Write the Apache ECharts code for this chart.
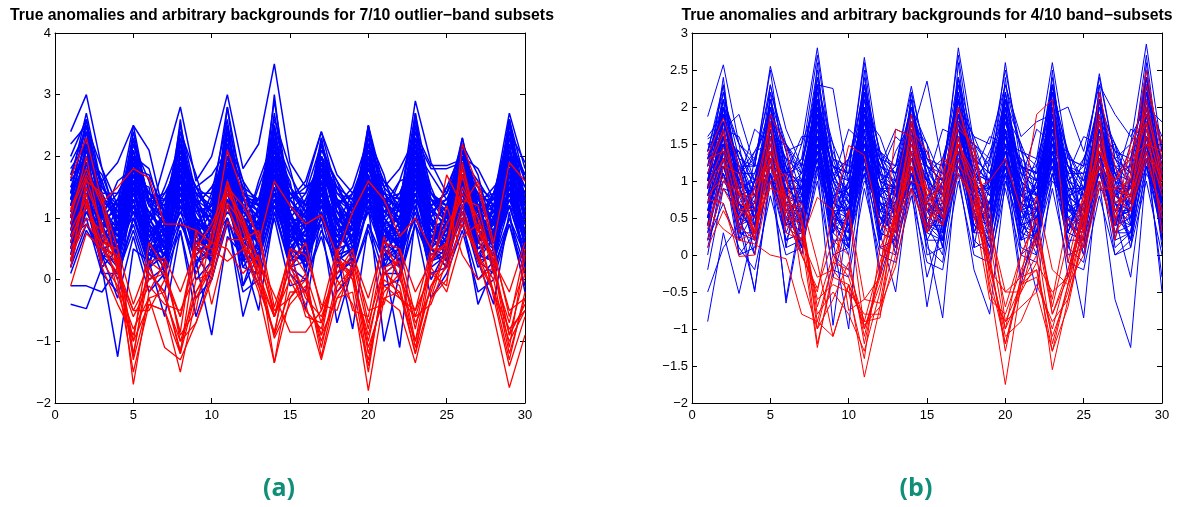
<!DOCTYPE html>
<html><head><meta charset="utf-8">
<script src="https://cdn.jsdelivr.net/npm/echarts@6/dist/echarts.min.js"></script>
<style>html,body{margin:0;padding:0;background:#fff}#c{width:1187px;height:507px}</style>
</head><body><div id="c"></div>
<script>
const bands = [1,2,3,4,5,6,7,8,9,10,11,12,13,14,15,16,17,18,19,20,21,22,23,24,25,26,27,28,29,30];
const titleA = 'True anomalies and arbitrary backgrounds for 7/10 outlier\u2212band subsets';
const titleB = 'True anomalies and arbitrary backgrounds for 4/10 band\u2212subsets';
const panelLabels = ['(a)', '(b)'];

// Panel (a): background (blue) spectra
const blueA = [
[1.0,1.9,0.8,0.6,1.7,0.9,0.5,1.8,1.0,0.6,2.0,0.9,0.7,2.1,1.0,0.6,1.7,0.8,1.0,1.9,0.7,0.8,2.0,0.7,0.9,1.8,0.9,0.6,1.9,1.0],
[1.3,2.3,1.1,0.5,2.0,0.7,0.9,2.2,0.8,0.6,2.4,1.2,0.5,2.5,0.9,0.7,2.0,1.1,0.8,2.2,1.0,0.7,2.3,0.9,0.6,1.9,1.1,0.7,2.3,1.2],
[0.6,1.5,0.4,0.3,1.3,0.5,0.2,1.4,0.6,0.3,1.6,0.4,0.3,1.7,0.5,0.4,1.3,0.3,0.5,1.4,0.4,0.2,1.6,0.5,0.3,1.4,0.6,0.4,1.5,0.3],
[1.6,2.7,1.5,1.1,2.3,1.3,1.0,2.5,1.4,1.2,2.8,1.4,1.1,2.9,1.3,1.0,2.2,1.5,1.1,2.4,1.3,1.2,2.7,1.4,1.0,2.2,1.3,1.1,2.6,1.6],
[0.8,1.6,1.3,1.0,1.4,0.6,0.4,1.7,1.2,0.5,1.5,1.0,0.8,1.9,1.1,0.6,1.6,0.7,1.2,1.8,1.3,0.5,1.7,1.1,0.9,1.5,0.7,1.0,1.7,0.8],
[0.3,1.1,0.6,0.0,1.0,0.2,0.4,1.2,0.0,0.3,1.3,0.5,-0.1,1.1,0.3,0.4,1.0,0.1,0.3,1.2,0.5,0.0,1.2,0.2,0.4,1.1,0.3,0.1,1.0,0.4],
[2.4,3.0,1.8,1.2,2.5,2.1,1.0,2.0,1.5,1.1,2.2,1.3,1.0,2.4,1.2,0.9,1.8,1.1,1.0,2.0,1.1,1.2,2.9,1.9,1.4,2.0,1.1,1.3,2.7,1.8],
[2.0,2.6,1.4,0.9,1.8,1.0,1.9,2.8,1.6,2.0,3.0,1.8,2.2,3.5,1.9,1.5,2.4,1.4,1.1,2.5,1.5,1.8,2.3,1.8,1.8,1.9,1.3,1.0,2.1,1.5],
[-0.1,-0.1,-0.2,0.2,0.9,0.1,-0.2,1.0,0.3,-0.9,0.7,0.4,-0.5,1.1,0.2,0.3,0.9,-0.7,0.2,1.2,-1.0,0.1,0.9,0.3,0.4,1.0,-0.4,0.2,0.9,0.1],
[-0.4,-0.47,0.2,-1.25,0.5,0.3,-0.6,0.8,-0.6,0.2,1.0,-0.6,0.3,1.3,0.5,-0.5,1.1,0.4,-0.8,0.9,0.3,-1.1,1.0,0.5,0.2,1.2,0.3,-0.4,1.1,-0.2],
[0.9,2.0,1.6,1.9,2.5,1.2,1.0,1.9,1.5,1.7,2.1,1.4,1.3,2.0,1.3,1.6,2.4,1.7,1.4,2.1,1.0,1.6,2.4,1.85,1.85,1.95,1.6,1.2,1.9,1.4],
[1.1,1.7,0.9,0.8,1.5,1.1,0.7,1.6,0.9,0.8,1.8,1.0,0.9,1.9,0.8,0.9,1.5,1.0,0.8,1.7,0.9,1.0,1.8,0.9,0.7,1.6,1.0,0.8,1.7,1.1],
[0.7,1.3,0.5,0.4,1.1,0.6,0.3,1.2,0.7,0.4,1.4,0.6,0.4,1.5,0.7,0.5,1.1,0.5,0.6,1.3,0.6,0.4,1.4,0.6,0.5,1.2,0.7,0.5,1.3,0.6],
[1.4,2.1,1.2,0.7,1.8,1.4,1.1,2.0,1.2,0.9,2.2,1.5,0.8,2.2,1.4,1.2,1.9,1.3,0.9,2.0,1.4,1.1,2.1,1.2,1.3,1.9,1.4,0.9,2.0,1.3],
[0.4,1.2,1.0,0.6,1.9,0.8,0.5,1.5,0.4,0.7,1.7,0.2,0.6,1.6,0.9,0.2,1.4,0.9,0.4,1.6,0.8,0.6,1.5,0.3,0.7,1.6,0.5,0.8,1.4,0.9],
[1.9,2.4,1.0,1.3,2.1,0.9,1.5,2.2,0.8,1.4,2.6,0.7,1.6,2.3,0.6,1.3,2.0,1.2,1.5,2.3,0.9,1.3,2.5,1.0,1.5,2.1,0.8,1.4,2.4,1.0],
[0.9,1.6,0.3,0.9,1.2,0.3,0.8,1.5,0.2,0.9,1.6,0.3,0.9,1.4,0.4,0.8,1.3,0.2,0.9,1.5,0.2,0.7,1.7,0.3,0.9,1.4,0.3,1.0,1.6,0.2],
[1.2,2.0,1.4,0.2,1.6,1.5,0.2,1.9,1.3,0.4,2.0,1.4,0.2,2.1,1.6,0.3,1.8,1.3,0.2,1.9,1.5,0.4,2.0,1.2,0.3,1.7,1.4,0.1,2.0,1.3],
[0.5,1.0,0.1,0.1,0.8,0.0,0.2,0.9,0.4,0.0,1.0,0.2,0.1,1.2,0.2,0.0,0.8,0.3,0.1,0.9,0.1,0.3,1.1,0.1,0.2,0.9,0.0,0.3,1.0,0.2],
[1.7,2.5,1.8,0.9,2.2,1.6,0.7,2.4,1.7,0.8,2.5,1.6,0.7,2.6,1.8,0.8,2.1,1.6,0.9,2.3,1.7,0.8,2.4,1.5,0.9,2.2,1.7,0.7,2.4,1.9],
[0.2,1.4,0.8,0.5,1.5,0.3,0.7,1.6,0.9,0.3,1.5,0.8,0.4,1.7,0.5,0.8,1.6,0.4,0.7,1.5,0.8,0.3,1.6,0.9,0.5,1.5,0.4,0.8,1.6,0.6],
[1.0,2.2,0.6,1.2,1.8,0.5,1.1,2.0,0.7,1.3,2.1,0.5,1.2,2.3,0.6,1.1,1.9,0.5,1.3,2.0,0.6,1.2,2.2,0.5,1.1,1.9,0.6,1.2,2.1,0.7],
[1.5,1.8,0.8,1.3,1.4,1.0,1.4,1.7,1.1,1.2,1.9,1.3,1.2,1.8,1.0,1.3,1.6,0.9,1.4,1.7,1.0,1.2,1.8,1.1,1.3,1.6,1.0,1.2,1.8,1.1],
[0.6,1.7,1.1,0.3,1.4,0.9,0.1,1.5,1.0,0.2,1.7,0.9,0.2,1.8,1.1,0.1,1.4,1.0,0.3,1.6,0.9,0.2,1.7,1.0,0.3,1.5,1.1,0.2,1.6,0.9],
[1.2,2.4,1.3,1.0,2.4,1.2,0.9,2.3,1.2,1.0,2.5,1.1,0.9,2.7,1.2,1.0,2.3,1.1,1.0,2.4,1.2,0.9,2.6,1.1,1.0,2.3,1.2,1.0,2.5,1.2],
[0.8,1.3,0.7,0.8,1.2,0.8,0.7,1.4,0.6,0.8,1.3,0.7,0.8,1.4,0.8,0.7,1.2,0.8,0.7,1.3,0.8,0.7,1.4,0.7,0.8,1.2,0.8,0.7,1.3,0.8],
[2.2,2.5,1.5,1.2,2.0,1.4,1.3,2.1,1.5,1.3,2.3,1.6,1.2,2.5,1.5,1.2,2.0,1.4,1.3,2.2,1.5,1.2,2.3,1.4,1.2,2.0,1.5,1.3,2.3,1.7],
[0.1,0.8,0.4,-0.3,0.7,-0.2,0.1,0.8,-0.3,0.0,0.9,-0.2,0.0,1.0,-0.1,0.0,0.7,-0.2,0.1,0.8,-0.1,0.0,0.9,-0.3,0.1,0.8,-0.2,0.0,0.9,-0.1],
[1.3,2.0,1.6,0.9,1.7,1.3,1.2,1.9,1.5,1.0,2.0,1.3,1.1,2.0,1.4,1.2,1.7,1.5,1.0,1.8,1.4,1.1,2.0,1.4,1.2,1.8,1.5,1.1,1.9,1.4],
[0.9,1.5,0.5,0.6,2.0,0.7,0.4,1.9,0.6,0.5,1.8,0.6,0.5,2.0,0.7,0.6,1.8,0.5,0.6,1.9,0.6,0.5,1.9,0.7,0.6,1.7,0.5,0.6,1.9,0.7],
[1.1,1.5,1.0,1.6,1.8,1.7,1.1,1.6,1.2,1.5,1.7,1.3,1.0,1.6,1.3,1.5,1.7,1.2,1.0,1.8,1.2,1.6,1.7,1.0,1.5,1.6,1.2,1.5,1.8,1.2],
[0.5,1.9,1.2,0.7,2.1,1.0,0.6,2.0,1.1,0.7,2.2,1.0,0.6,2.2,1.0,0.7,2.0,0.9,0.7,2.1,1.0,0.6,2.2,1.0,0.7,2.0,0.9,0.6,2.2,1.0],
[1.8,2.2,0.5,0.4,1.6,0.4,0.3,1.7,0.5,0.4,1.8,0.5,0.3,1.9,0.4,0.3,1.6,0.4,0.5,1.7,0.5,0.3,1.8,0.5,0.4,1.6,0.4,0.3,1.8,0.5],
[0.7,1.8,0.9,1.2,1.6,0.4,0.9,1.8,1.4,0.6,1.9,1.0,1.3,2.0,0.5,0.9,1.9,1.3,0.5,1.8,1.1,1.4,2.0,0.6,0.9,1.8,1.2,0.6,2.0,1.2],
[1.4,2.6,1.1,0.4,2.3,0.9,0.6,2.6,0.8,0.5,2.8,1.0,0.6,3.0,0.9,0.5,2.3,0.9,0.7,2.5,0.8,0.6,2.7,0.9,0.5,2.2,0.9,0.6,2.6,1.0],
[0.3,1.2,0.2,0.5,1.4,0.6,0.0,1.3,0.3,0.5,1.5,-0.1,0.4,1.5,0.2,0.5,1.3,0.0,0.4,1.4,0.3,0.5,1.3,0.0,0.5,1.2,0.3,0.4,1.4,0.3],
[0.9,1.4,1.2,0.6,1.3,1.1,0.8,1.6,0.7,1.1,1.4,0.9,0.6,1.6,1.2,0.8,1.2,1.0,0.7,1.5,1.1,0.9,1.6,0.8,1.0,1.3,1.1,0.7,1.5,1.2],
[1.2,1.9,0.7,1.0,2.2,1.3,0.5,2.1,0.9,0.8,1.6,1.3,1.0,2.0,0.7,1.2,1.6,0.6,1.1,2.2,0.9,0.5,1.8,1.2,0.8,2.1,0.8,1.1,1.7,0.6],
[0.4,1.7,1.0,1.3,1.1,0.2,1.2,1.4,0.5,0.3,1.9,1.2,0.7,1.3,0.4,1.0,2.0,1.1,0.6,1.7,0.3,1.0,1.4,0.6,1.1,1.5,1.3,0.9,2.2,0.5],
[1.5,2.2,1.6,0.8,1.9,0.9,1.3,1.8,1.4,1.1,1.7,0.8,1.5,2.2,1.3,0.9,1.9,1.2,1.4,1.8,1.6,1.1,2.1,1.7,1.3,1.6,1.0,1.4,2.3,1.6],
[0.7,0.9,0.4,0.9,1.7,0.9,0.6,1.1,0.8,0.4,1.2,0.9,0.3,1.9,0.9,0.5,1.0,0.6,0.9,1.4,0.5,0.7,1.3,0.9,0.6,1.0,0.6,0.9,1.2,0.8],
[1.0,2.1,1.3,0.5,1.5,0.6,1.0,2.3,0.9,1.2,2.3,0.9,1.1,1.8,1.1,0.4,2.2,1.3,0.6,2.4,1.3,0.9,1.7,0.9,1.2,2.3,1.1,0.5,2.1,1.3],
[0.6,1.1,0.9,0.7,1.0,0.4,0.9,1.3,1.0,0.6,1.1,0.8,0.9,1.2,0.6,0.8,1.5,0.7,0.8,1.1,0.7,0.9,1.2,0.5,0.8,1.3,0.9,0.6,1.2,0.5],
[1.3,2.3,1.0,1.1,1.6,1.1,0.8,1.7,1.3,0.9,2.5,1.1,0.8,2.1,1.5,1.1,1.9,0.9,1.2,2.0,1.2,1.0,2.2,1.3,0.9,2.0,1.2,1.2,2.4,1.1],
[0.2,0.9,0.5,0.2,1.2,0.5,0.3,1.0,0.1,0.6,1.0,0.3,0.5,1.4,0.6,0.2,1.2,0.4,0.2,1.3,0.2,0.4,1.0,0.4,0.6,1.1,0.2,0.5,1.2,0.4],
[1.7,1.9,1.1,1.4,1.9,1.4,1.2,2.3,1.2,1.5,2.0,1.2,1.3,2.4,1.1,1.4,2.2,1.3,1.2,1.9,1.4,1.3,1.9,1.2,1.4,2.2,1.3,1.3,1.9,1.5],
[1.0,1.6,1.5,1.1,1.8,1.2,1.3,1.7,0.6,0.9,1.8,1.1,0.9,1.7,1.0,0.9,1.7,1.2,0.8,1.6,1.2,1.1,1.5,1.3,1.2,1.7,1.0,1.1,1.8,1.0],
[0.8,2.0,0.9,0.3,1.9,0.8,0.4,1.8,0.8,0.3,1.9,0.7,0.4,2.3,0.8,0.3,1.7,0.8,0.4,2.0,0.8,0.5,2.1,0.7,0.4,1.9,0.8,0.4,2.0,0.7],
[1.1,1.3,0.2,0.5,1.1,1.0,0.5,1.3,0.6,0.9,1.6,0.6,0.5,1.3,0.8,0.9,1.4,0.5,0.9,1.4,0.4,0.6,1.3,0.8,0.7,1.3,0.6,0.9,1.4,0.9],
[1.4,2.5,1.2,0.8,2.1,1.2,1.0,2.4,1.3,0.9,2.4,1.2,0.9,2.4,1.3,1.0,2.2,1.2,0.9,2.5,1.3,1.0,2.5,1.3,1.0,2.1,1.2,0.9,2.6,1.3],
[0.5,1.3,0.6,0.6,1.6,0.8,0.5,1.6,0.9,0.5,1.6,0.8,0.6,1.6,0.7,0.6,1.4,0.7,0.5,1.5,0.7,0.6,1.6,0.8,0.5,1.4,0.7,0.6,1.5,0.7],
[1.2,1.4,1.3,1.2,1.5,1.4,1.1,1.5,1.3,1.1,1.5,1.4,1.2,1.6,1.4,1.1,1.4,1.3,1.1,1.5,1.3,1.2,1.6,1.3,1.1,1.4,1.4,1.2,1.5,1.3],
[0.9,1.8,0.1,-0.2,1.5,0.2,0.6,1.7,0.3,0.4,1.8,-0.1,0.7,1.8,0.1,-0.2,1.5,0.3,0.5,1.7,0.1,0.1,1.6,0.5,0.2,1.6,0.3,0.7,1.7,0.2],
[1.6,2.0,1.7,1.0,2.0,1.8,0.9,2.2,1.1,1.2,2.2,1.5,1.3,2.3,1.7,1.2,2.0,1.6,1.2,2.2,1.6,1.3,2.2,1.4,1.1,2.0,1.8,1.3,2.2,1.7],
[0.3,1.6,0.9,0.9,1.3,0.2,0.4,1.4,1.0,0.8,1.3,0.3,1.0,1.4,0.3,0.6,1.4,0.6,0.9,1.3,0.6,0.8,1.4,0.4,0.6,1.3,0.6,0.9,1.4,0.6],
[1.0,2.2,1.1,0.7,1.7,0.7,0.8,2.0,1.0,0.6,2.2,0.8,0.7,2.2,0.9,0.6,1.9,1.0,0.7,2.0,0.9,0.8,2.1,1.0,0.6,1.9,0.9,0.7,2.1,0.9],
[0.7,1.5,0.9,0.9,1.2,0.7,1.1,1.5,0.8,0.9,1.7,0.8,0.8,1.7,0.9,1.1,1.3,0.7,1.1,1.6,0.8,1.0,1.5,0.9,0.9,1.4,0.8,1.1,1.5,0.9],
[1.3,1.7,0.6,0.9,1.8,0.6,1.1,1.8,0.5,1.0,1.6,0.6,1.1,1.7,0.7,1.1,1.8,0.5,1.0,1.6,0.5,1.2,1.8,0.6,1.1,1.7,0.6,1.0,1.8,0.5],
[1.1,2.1,1.4,1.4,1.9,1.3,1.4,1.9,1.4,1.4,2.0,1.3,1.3,1.9,1.4,1.4,1.9,1.5,1.3,1.9,1.3,1.4,2.0,1.2,1.4,1.9,1.3,1.4,2.0,1.4],
[0.6,1.2,0.4,0.1,1.0,0.4,0.5,1.1,0.5,0.5,1.2,0.4,0.3,1.2,0.5,0.3,1.0,0.4,0.5,1.1,0.4,0.5,1.2,0.3,0.5,1.1,0.4,0.3,1.2,0.4]
];

// Panel (a): true anomalies (red)
const redA = [
[1.65,2.3,1.25,1.5,1.8,1.65,0.9,0.9,0.8,0.6,2.1,1.4,0.6,1.6,1.2,0.9,1.05,0.4,1.1,1.6,1.3,0.7,1.0,0.5,1.7,1.2,1.6,0.6,1.9,1.6],
[1.15,1.8,1.2,0.2,-0.5,0.0,0.1,-0.6,0.4,0.6,1.6,0.9,0.1,-0.6,0.2,-0.2,-0.9,0.3,0.1,-1.0,0.2,0.3,-0.8,0.4,0.6,1.8,0.8,0.3,-0.9,0.1],
[0.9,1.65,0.8,0.3,-1.3,-0.3,-0.2,-1.2,0.5,0.4,1.5,0.8,0.0,-0.9,0.5,0.1,-0.7,0.2,0.3,-0.8,0.5,0.2,-1.0,0.3,0.9,1.3,1.2,0.2,-1.1,0.4],
[0.3,1.5,0.9,-0.2,-1.0,0.6,0.2,-0.9,-0.5,0.8,1.4,1.0,0.3,-0.5,-0.3,0.0,-1.1,0.0,-0.4,-1.3,-0.1,-0.3,-0.6,-0.4,0.3,1.1,0.3,-0.2,-0.8,-0.5],
[0.2,1.25,0.6,0.0,-1.5,-0.4,-0.5,-1.5,-0.3,0.2,1.2,0.5,-0.2,-1.35,0.1,-0.4,-1.3,-0.3,-0.2,-1.8,-0.3,-0.5,-1.35,-0.3,0.0,1.0,0.4,-0.6,-1.75,-0.9],
[-0.1,0.75,0.5,0.4,-1.7,-0.2,0.3,-1.0,-0.7,0.0,0.95,0.6,-0.1,-0.85,0.3,-0.6,-0.7,0.4,0.0,-1.5,0.1,-0.1,-1.2,0.2,-0.2,0.7,0.9,-0.3,-1.4,-0.6],
[0.6,1.4,0.3,-0.1,-0.8,-0.3,-1.1,-1.3,-0.7,0.1,1.6,0.6,0.2,-0.95,-0.4,-0.1,-1.0,-0.2,0.2,-1.2,-0.2,0.1,-1.1,-0.1,0.4,1.2,0.4,0.0,-1.2,-0.3],
[1.0,2.0,0.7,0.2,-1.25,0.3,0.1,-0.85,0.8,-0.4,0.65,0.65,0.8,-0.45,0.4,-0.3,-0.6,0.1,0.5,-0.7,0.2,-0.3,-0.5,0.1,-0.1,2.2,1.5,0.5,-0.6,0.2],
[0.8,1.3,0.2,-0.4,-0.9,0.2,-0.3,-1.0,-0.2,0.3,1.4,1.0,0.0,-0.6,0.0,-0.5,-0.8,0.3,0.0,-0.9,0.1,0.3,-0.7,-0.2,0.6,1.5,1.0,0.1,-0.7,0.5],
[0.4,0.9,0.6,0.5,-1.2,0.1,-0.2,-1.15,0.0,0.1,1.25,0.9,0.3,-1.35,-0.3,0.1,-1.25,-0.1,0.2,-1.4,0.0,-0.2,-1.2,-0.3,0.5,1.7,0.7,-0.2,-1.3,-0.2],
[0.3,1.6,1.4,0.1,-0.5,-0.5,0.0,-0.6,0.6,0.5,0.3,0.5,0.3,-0.25,-0.85,-0.85,-0.5,0.5,-0.5,-0.6,0.7,0.0,-0.5,0.5,0.5,1.9,0.8,0.4,-0.5,-0.3],
[0.7,1.2,0.5,0.1,-0.6,-0.1,-0.4,-0.5,0.1,0.6,0.5,0.1,0.4,-0.6,0.5,0.4,-0.4,-0.5,0.3,-0.5,-0.4,0.5,-0.6,0.2,1.2,0.4,0.0,0.2,-0.9,-0.4],
[1.1,1.7,1.3,0.5,-0.4,0.3,0.35,-0.2,0.5,0.9,1.5,1.2,0.7,-0.6,0.2,0.6,-0.5,0.1,0.4,-0.3,0.6,0.5,-0.2,0.3,0.6,1.4,1.0,0.3,-0.2,0.6],
[0.5,1.0,0.8,0.3,-1.0,-0.4,-0.5,-1.2,-0.2,0.2,1.2,0.6,-0.1,-0.9,-0.2,-0.2,-0.9,-0.3,0.1,-1.1,-0.3,-0.2,-1.0,-0.1,0.2,0.9,0.4,-0.2,-1.0,-0.5]
];

// Panel (b): background (blue) spectra
const blueB = [
[0.8,1.8,0.4,0.5,1.7,0.6,0.7,1.9,0.5,0.4,1.9,0.6,0.5,1.6,0.6,0.4,1.8,0.7,0.5,1.7,0.5,0.6,1.8,0.6,0.5,1.7,0.6,0.7,1.9,0.6],
[1.2,2.3,0.9,1.0,2.1,1.1,1.2,2.5,1.0,0.9,2.4,1.1,0.9,2.1,1.0,0.8,2.4,1.2,1.0,2.2,1.1,1.0,2.3,1.0,0.9,2.2,1.1,1.2,2.5,1.1],
[0.3,1.3,0.0,0.1,1.1,0.2,0.3,1.4,0.0,-0.2,1.3,0.1,0.0,1.1,0.1,-0.1,1.3,0.2,0.0,1.2,0.1,0.0,1.3,0.1,-0.1,1.2,0.0,0.2,1.4,0.2],
[1.0,2.0,0.6,0.8,1.9,0.8,1.0,2.2,0.7,0.6,2.1,0.8,0.7,1.9,0.7,0.6,2.1,0.9,0.7,2.0,0.8,0.7,2.1,0.8,0.6,1.9,0.8,0.9,2.2,0.8],
[0.5,1.5,0.3,0.2,1.4,0.4,0.5,1.7,0.3,0.1,1.6,0.3,0.2,1.4,0.3,0.2,1.6,0.4,0.3,1.5,0.3,0.2,1.6,0.3,0.2,1.4,0.4,0.5,1.6,0.4],
[1.87,2.57,1.5,1.2,2.3,1.4,1.5,2.8,1.3,1.1,2.67,1.3,1.2,2.28,1.2,1.0,2.8,1.5,1.3,2.5,1.4,1.3,2.6,1.3,1.2,2.45,1.3,1.5,2.85,1.4],
[-0.9,0.3,-0.52,0.4,1.3,-0.65,0.5,1.5,0.2,-1.0,1.4,0.3,-0.5,1.2,0.2,-0.85,1.4,0.4,0.2,1.3,-0.3,0.3,1.4,0.2,-0.85,1.3,0.3,0.4,1.5,-0.5],
[-0.5,0.1,0.4,-0.47,1.0,0.5,0.0,1.2,-0.95,0.6,1.1,-0.3,0.4,0.9,-0.7,0.5,1.1,-0.2,-0.8,1.0,0.4,-0.5,1.1,0.5,0.0,1.0,-0.6,-1.25,1.2,0.4],
[1.57,1.7,1.9,1.2,2.55,1.7,1.2,2.3,2.25,1.0,2.0,1.2,1.7,1.6,2.35,1.2,2.0,1.6,1.5,2.3,1.6,1.8,1.9,2.0,1.4,2.3,1.9,1.6,2.0,1.8],
[0.9,1.6,1.4,0.9,1.6,1.5,1.0,1.8,1.2,0.8,1.6,1.4,1.1,1.7,1.3,0.9,1.8,1.4,1.0,1.6,1.3,1.1,1.7,1.2,0.9,1.7,1.4,1.0,1.8,1.3],
[0.6,1.2,0.8,0.9,1.3,0.9,0.7,1.3,0.8,0.9,1.2,0.9,0.8,1.3,0.8,0.9,1.3,0.8,0.7,1.2,0.9,0.8,1.3,0.8,0.9,1.2,0.9,0.8,1.3,0.9],
[1.3,2.1,0.2,1.3,2.0,0.1,1.2,2.3,0.3,1.3,2.2,0.2,1.1,2.0,0.3,1.2,2.2,0.1,1.3,2.1,0.2,1.2,2.2,0.3,1.1,2.1,0.2,1.3,2.3,0.2],
[0.1,1.0,1.0,0.0,1.2,0.9,0.0,1.5,0.9,0.1,1.4,0.9,0.0,1.2,1.0,0.1,1.5,0.9,0.0,1.3,1.0,0.1,1.4,0.9,0.0,1.3,1.0,0.1,1.5,0.9],
[1.1,1.9,0.6,0.3,1.8,0.7,0.4,2.0,0.6,0.3,2.0,0.7,0.4,1.8,0.5,0.3,2.0,0.7,0.4,1.9,0.6,0.3,2.0,0.6,0.4,1.8,0.7,0.5,2.0,0.7],
[0.7,1.4,0.2,0.6,1.5,0.3,0.8,1.6,0.1,0.6,1.5,0.2,0.7,1.4,0.2,0.6,1.6,0.3,0.7,1.5,0.2,0.6,1.5,0.1,0.7,1.4,0.3,0.8,1.6,0.3],
[1.4,2.2,1.1,0.6,2.0,1.2,0.7,2.4,1.0,0.6,2.3,1.1,0.6,2.0,1.1,0.5,2.3,1.2,0.6,2.2,1.1,0.6,2.3,1.0,0.5,2.1,1.1,0.7,2.4,1.2],
[0.4,1.1,0.5,0.7,1.2,0.6,0.4,1.3,0.5,0.7,1.2,0.5,0.4,1.1,0.6,0.7,1.3,0.5,0.4,1.2,0.6,0.7,1.2,0.5,0.4,1.2,0.5,0.6,1.3,0.5],
[1.0,2.4,0.7,0.2,2.2,0.8,0.3,2.6,0.6,0.2,2.5,0.7,0.3,2.2,0.6,0.2,2.6,0.8,0.3,2.4,0.7,0.2,2.5,0.7,0.3,2.3,0.7,0.4,2.6,0.7],
[0.2,0.7,0.1,-0.2,0.8,0.0,0.1,1.0,-0.2,-0.3,0.9,0.0,-0.1,0.8,-0.1,-0.2,1.0,0.0,-0.1,0.9,0.0,-0.1,0.9,-0.1,-0.2,0.8,0.0,0.1,1.0,0.0],
[1.2,1.7,1.6,1.0,1.9,1.5,1.1,2.0,1.5,1.0,1.9,1.6,1.0,1.8,1.5,1.0,2.0,1.6,1.1,1.9,1.5,1.0,2.0,1.4,1.0,1.8,1.5,1.1,2.1,1.6],
[0.9,1.5,0.9,0.2,1.4,0.9,0.1,1.7,0.8,0.1,1.6,1.0,0.2,1.5,0.8,0.1,1.7,0.9,0.2,1.6,0.9,0.1,1.6,0.8,0.2,1.5,0.9,0.2,1.7,0.9],
[0.6,1.8,1.2,0.6,1.7,1.3,0.5,2.0,1.1,0.6,1.9,1.2,0.5,1.7,1.1,0.6,1.9,1.3,0.5,1.8,1.2,0.6,1.9,1.1,0.5,1.7,1.2,0.6,2.0,1.2],
[1.5,1.3,0.4,1.0,1.1,0.4,1.0,1.4,0.3,1.0,1.3,0.4,1.0,1.1,0.4,0.9,1.4,0.3,1.0,1.2,0.4,1.0,1.3,0.3,0.9,1.2,0.4,1.0,1.4,0.4],
[0.0,1.2,0.5,0.4,1.3,0.5,0.3,1.5,0.4,0.2,1.4,0.5,0.3,1.2,0.4,0.3,1.5,0.5,0.3,1.3,0.4,0.3,1.4,0.4,0.2,1.3,0.5,0.4,1.5,0.5],
[1.3,2.0,0.9,1.4,1.8,0.8,1.5,2.1,0.7,1.3,2.0,0.8,1.4,1.8,0.7,1.3,2.1,0.9,1.4,1.9,0.8,1.3,2.0,0.7,1.3,1.9,0.8,1.5,2.1,0.8],
[0.8,1.6,0.0,0.3,1.6,0.1,0.2,1.8,0.0,0.1,1.7,0.1,0.2,1.6,0.0,0.1,1.8,0.1,0.2,1.7,0.0,0.2,1.7,0.0,0.1,1.6,0.1,0.3,1.8,0.1],
[0.5,2.0,1.5,0.4,2.1,1.4,0.4,2.3,1.5,0.3,2.2,1.4,0.4,2.0,1.5,0.3,2.3,1.4,0.4,2.1,1.5,0.3,2.2,1.4,0.4,2.0,1.5,0.4,2.3,1.5],
[1.1,1.4,1.0,1.7,1.5,1.1,1.6,1.6,1.0,1.7,1.5,1.1,1.6,1.4,1.0,1.7,1.6,1.1,1.6,1.5,1.0,1.7,1.5,1.1,1.6,1.5,1.0,1.7,1.6,1.1],
[-0.2,0.9,0.6,-0.5,1.1,-0.6,0.6,1.3,-0.3,0.5,1.2,-0.2,0.5,1.0,-0.3,0.4,1.2,0.6,-0.2,1.1,-0.4,0.5,1.2,-0.3,0.5,1.1,0.5,-0.3,1.3,-0.3],
[0.9,2.2,1.3,1.2,2.5,1.0,1.3,2.7,1.2,1.1,2.6,1.0,1.2,2.2,1.3,1.1,2.7,1.2,1.0,2.6,1.2,1.1,2.4,1.0,1.2,2.4,1.3,1.1,2.7,1.0],
[0.4,1.7,0.8,0.9,1.9,0.6,0.8,2.1,0.5,0.8,2.0,0.6,0.9,1.8,0.6,0.8,2.1,0.7,0.9,2.0,0.5,0.8,2.1,0.6,0.8,1.9,0.7,0.9,2.2,0.6],
[1.6,1.9,1.2,0.5,1.6,0.5,0.9,1.8,0.7,0.9,1.7,0.3,0.8,1.6,0.6,0.7,1.8,0.9,0.5,1.7,0.7,0.9,1.8,0.5,0.7,1.6,0.8,0.6,1.8,0.9],
[0.7,1.1,0.3,0.3,1.0,0.2,0.3,1.2,0.2,0.2,1.1,0.3,0.2,1.0,0.2,0.2,1.2,0.3,0.3,1.1,0.2,0.3,1.1,0.2,0.2,1.0,0.3,0.3,1.2,0.3],
[1.0,2.1,1.0,0.7,2.3,1.2,0.9,2.1,1.3,0.7,2.2,1.0,0.8,2.0,1.2,0.7,2.2,1.1,0.8,2.1,1.0,0.8,2.2,1.2,0.7,2.1,1.0,0.8,2.3,1.0],
[1.3,1.5,0.7,0.4,1.3,0.7,0.6,1.5,0.7,0.6,1.4,0.7,0.6,1.3,0.7,0.5,1.5,0.7,0.6,1.4,0.7,0.6,1.4,0.7,0.5,1.3,0.7,0.6,1.5,0.7],
[0.2,1.4,1.1,1.4,1.5,1.2,0.3,1.6,1.0,1.3,1.5,0.6,0.2,1.3,1.1,0.2,1.6,1.5,0.3,1.4,1.3,0.2,1.5,1.4,0.3,1.4,0.2,0.3,1.6,1.3],
[0.9,1.5,1.0,0.8,1.6,1.1,0.9,1.7,0.9,0.8,1.6,1.0,0.9,1.5,1.0,0.8,1.7,1.0,0.9,1.6,1.0,0.8,1.6,0.9,0.8,1.5,1.0,0.9,1.7,1.0],
[1.1,1.7,0.7,0.9,1.4,0.9,1.1,1.9,0.6,0.5,1.8,1.0,0.9,1.6,0.7,0.6,1.9,0.8,1.0,1.6,0.7,0.9,1.9,0.8,0.6,1.6,0.9,1.0,1.8,0.9],
[0.6,1.3,0.9,0.4,1.2,0.8,0.7,1.6,0.6,0.3,1.5,0.7,0.6,1.3,0.7,0.4,1.5,0.8,0.6,1.4,0.7,0.5,1.5,0.7,0.4,1.3,0.8,0.7,1.5,0.7],
[1.4,1.9,1.1,1.1,1.8,1.3,1.2,2.1,1.1,1.0,2.0,1.2,1.1,1.8,1.2,1.0,2.0,1.3,1.1,1.9,1.2,1.1,1.9,1.2,1.0,1.8,1.2,1.2,2.1,1.2],
[0.3,1.1,0.6,0.6,1.1,0.4,0.5,1.3,0.4,0.3,1.2,0.5,0.5,1.1,0.4,0.4,1.3,0.5,0.5,1.2,0.4,0.5,1.2,0.4,0.3,1.1,0.5,0.5,1.3,0.5],
[1.0,1.8,1.3,0.6,2.0,0.9,0.9,2.2,1.1,0.7,2.1,1.3,0.8,1.9,1.1,0.9,2.2,1.0,0.7,2.1,1.1,0.9,2.0,1.2,0.8,2.0,0.9,0.9,2.3,1.1],
[0.8,1.2,0.5,0.7,1.5,0.8,0.4,1.4,0.7,0.5,1.4,0.6,0.8,1.3,0.6,0.5,1.4,0.6,0.7,1.4,0.7,0.6,1.3,0.6,0.7,1.4,0.5,0.6,1.4,0.7],
[1.2,2.0,1.2,1.0,1.7,1.0,1.0,1.8,1.2,1.1,1.9,1.1,1.0,1.9,1.2,1.0,1.9,1.1,1.0,1.8,1.2,1.0,1.8,1.1,1.1,1.8,1.1,1.0,2.0,1.2],
[0.5,1.6,0.7,0.2,1.7,0.5,0.2,1.9,0.4,0.1,1.8,0.5,0.3,1.6,0.4,0.2,1.9,0.5,0.2,1.7,0.4,0.2,1.8,0.5,0.2,1.7,0.5,0.3,1.9,0.4],
[1.0,1.3,1.2,1.2,1.3,1.1,1.0,1.4,1.2,1.1,1.4,1.2,1.0,1.3,1.2,1.1,1.4,1.1,1.0,1.4,1.2,1.1,1.4,1.2,1.1,1.3,1.2,1.0,1.4,1.2],
[0.7,1.9,0.9,0.5,1.8,1.0,0.6,2.0,0.9,0.5,2.0,0.8,0.6,1.7,0.9,0.5,2.0,1.0,0.6,1.9,0.9,0.5,1.9,0.9,0.6,1.8,1.0,0.6,2.0,0.9],
[1.5,1.6,0.8,1.1,1.7,0.7,0.9,1.7,0.8,0.9,1.6,0.8,1.0,1.6,0.8,0.9,1.8,0.7,1.0,1.7,0.8,0.9,1.7,0.8,0.9,1.6,0.8,1.0,1.8,0.8],
[0.4,1.4,1.2,0.8,1.4,1.0,0.8,1.6,1.0,0.7,1.5,1.1,0.8,1.3,1.0,0.8,1.6,1.1,0.8,1.5,1.0,0.7,1.5,1.0,0.8,1.4,1.1,0.8,1.6,1.0],
[1.2,1.6,0.4,0.6,1.4,0.5,0.6,1.6,0.4,0.5,1.5,0.5,0.6,1.4,0.4,0.5,1.6,0.5,0.6,1.5,0.4,0.5,1.6,0.4,0.5,1.4,0.5,0.6,1.6,0.5],
[0.9,2.1,1.5,1.3,2.2,1.5,1.2,2.4,1.3,1.2,2.3,1.4,1.2,2.0,1.3,1.2,2.4,1.5,1.2,2.3,1.4,1.2,2.3,1.3,1.2,2.1,1.4,1.3,2.4,1.4],
[0.6,1.0,0.7,0.5,1.1,0.6,0.6,1.2,0.5,0.4,1.1,0.6,0.5,1.0,0.6,0.5,1.2,0.6,0.5,1.1,0.6,0.5,1.1,0.5,0.5,1.1,0.6,0.6,1.2,0.6],
[1.3,1.8,1.3,0.8,1.6,1.2,0.9,1.9,1.2,0.8,1.8,1.3,0.9,1.7,1.2,0.8,1.9,1.3,0.9,1.8,1.2,0.8,1.8,1.2,0.8,1.7,1.3,0.9,1.9,1.3],
[0.8,1.7,0.3,1.0,1.9,0.4,0.9,2.0,0.4,1.0,1.9,0.3,0.9,1.7,0.4,1.0,2.0,0.3,0.9,1.9,0.4,1.0,1.9,0.3,0.9,1.8,0.4,1.0,2.0,0.4],
[1.1,1.2,0.9,0.6,1.2,0.9,0.7,1.4,0.8,0.6,1.3,0.9,0.7,1.2,0.8,0.6,1.4,0.9,0.7,1.3,0.8,0.6,1.3,0.8,0.6,1.2,0.9,0.7,1.4,0.9],
[0.5,1.5,1.4,1.0,1.6,1.3,1.1,1.8,1.2,1.0,1.7,1.3,1.1,1.5,1.2,1.0,1.8,1.3,1.1,1.7,1.2,1.0,1.7,1.2,1.0,1.6,1.3,1.1,1.8,1.3],
[1.4,2.3,0.6,0.7,2.1,0.7,0.8,2.3,0.6,0.6,2.3,0.7,0.7,2.1,0.6,0.6,2.4,0.7,0.7,2.2,0.6,0.7,2.3,0.6,0.6,2.2,0.7,0.8,2.4,0.7],
[0.2,0.9,0.8,0.3,1.0,0.7,0.1,1.1,0.6,0.2,1.0,0.7,0.1,0.9,0.6,0.2,1.1,0.7,0.1,1.0,0.6,0.2,1.0,0.7,0.1,0.9,0.7,0.2,1.1,0.7],
[1.0,1.6,1.1,1.3,1.9,1.1,1.3,2.0,1.1,1.3,1.9,1.0,1.2,1.7,1.1,1.3,2.0,1.0,1.3,1.9,1.1,1.2,1.9,1.0,1.3,1.8,1.1,1.3,2.0,1.1],
[0.7,1.4,0.5,0.8,1.3,0.2,0.7,1.5,0.3,0.6,1.4,0.4,0.7,1.2,0.3,0.6,1.5,0.4,0.7,1.4,0.3,0.6,1.4,0.4,0.7,1.3,0.4,0.7,1.5,0.3],
[1.3,1.4,1.4,0.9,1.5,1.5,0.8,1.6,1.4,0.8,1.5,1.4,0.9,1.4,1.4,0.8,1.6,1.5,0.9,1.5,1.4,0.8,1.5,1.4,0.9,1.4,1.5,0.9,1.6,1.4],
[0.9,2.0,0.5,0.0,1.8,0.6,0.1,2.1,0.5,0.0,2.0,0.5,0.1,1.8,0.4,0.0,2.1,0.6,0.1,2.0,0.5,0.0,2.0,0.5,0.1,1.9,0.6,0.2,2.1,0.5],
[1.1,1.1,0.6,1.0,1.0,0.9,0.9,1.3,0.6,1.0,1.2,0.9,0.9,1.1,0.6,1.0,1.3,0.9,0.9,1.2,0.6,1.0,1.2,0.9,0.9,1.1,0.6,1.0,1.3,0.9],
[0.4,1.8,1.0,0.5,1.7,1.1,0.4,1.9,1.0,0.4,1.8,1.0,0.5,1.6,1.0,0.4,1.9,1.1,0.4,1.8,1.0,0.4,1.8,1.0,0.4,1.7,1.1,0.5,1.9,1.0]
];

// Panel (b): true anomalies (red)
const redB = [
[1.35,1.85,1.2,0.2,1.8,0.6,0.2,-1.25,-0.2,0.6,-1.0,-0.3,0.9,1.9,0.8,1.1,1.7,1.5,0.2,-1.0,-0.5,0.3,-0.8,-0.3,0.7,1.9,0.5,1.2,2.5,1.3],
[1.1,1.65,0.7,0.6,1.9,1.45,0.5,-0.8,-0.5,-0.8,-1.3,-0.5,0.6,1.6,0.9,0.7,2.0,1.2,-0.3,-1.2,-0.3,-0.2,-1.1,-0.5,0.4,1.6,0.9,1.0,2.1,1.1],
[0.95,1.45,0.9,0.2,1.4,1.0,0.4,-1.2,-0.3,-0.4,-1.65,-0.7,0.2,1.4,0.7,0.4,1.6,0.8,-0.4,-1.75,-0.4,0.0,-1.55,-0.6,0.2,1.5,0.7,0.8,2.0,1.0],
[0.7,1.3,0.3,0.9,1.75,0.7,0.0,-0.5,0.6,1.48,1.35,0.4,0.3,1.8,0.6,1.0,1.4,0.9,1.0,1.3,0.6,1.9,2.1,-0.1,0.8,1.2,1.0,1.3,1.5,1.4],
[0.4,1.0,0.85,0.3,1.6,0.5,0.45,-0.9,-0.1,0.62,-0.6,-0.65,0.5,1.2,0.5,0.6,1.5,1.0,-0.2,-1.0,0.0,0.5,-0.8,-0.2,0.6,1.8,0.4,1.5,1.9,1.2],
[0.75,0.7,-0.02,0.0,1.0,1.1,-0.3,-1.0,-0.1,-0.2,-0.9,-0.85,0.7,1.0,0.9,0.5,1.2,1.0,-0.5,-0.9,-0.7,-0.5,-1.3,-0.7,0.3,1.3,0.6,0.9,1.6,0.8],
[0.1,0.6,0.2,0.3,1.3,0.5,0.0,-0.45,0.2,0.0,-1.2,-0.2,0.5,0.9,0.4,0.8,1.3,0.6,-0.6,-0.8,-0.2,0.3,-0.6,0.5,0.1,1.0,0.3,0.6,1.4,0.5],
[0.35,1.2,1.1,0.3,1.0,0.4,0.2,0.78,0.6,-0.75,-0.6,-0.3,1.7,1.6,0.7,1.0,2.0,1.3,0.6,-0.9,-0.4,-0.3,-1.0,-0.2,0.5,1.4,1.0,1.4,1.8,0.9],
[1.3,1.4,0.6,0.7,1.5,0.8,0.5,-0.7,0.0,-0.3,-1.0,-0.4,0.4,1.5,0.8,0.5,1.5,1.1,-0.1,-1.1,-0.9,-0.4,-0.9,-0.6,0.3,2.2,1.2,0.7,2.3,1.5],
[0.8,1.05,0.6,0.5,0.9,0.8,0.3,-0.6,-0.4,-0.5,-0.8,-0.8,0.0,1.2,0.6,0.4,1.1,0.7,-0.2,-0.5,-0.5,-0.1,-0.5,-0.3,0.5,1.0,0.8,0.6,1.3,0.6],
[0.9,1.3,0.4,0.2,1.2,0.6,0.7,-0.1,-1.1,-0.4,-0.9,-0.1,0.6,1.7,1.4,0.8,1.8,1.4,0.4,-0.5,-0.3,0.8,-0.2,-0.4,0.6,1.5,0.8,0.6,1.7,1.0],
[0.2,0.9,0.5,0.9,1.4,0.3,0.2,-0.3,-0.2,-0.5,-1.4,0.1,0.5,1.3,0.3,0.7,1.6,0.5,0.0,-1.3,-0.3,0.2,-1.2,-0.4,0.4,1.2,0.2,1.1,1.8,0.3],
[0.6,0.35,0.2,0.15,0.0,-0.05,-0.8,-0.9,-1.1,-0.4,-0.95,-0.7,-0.15,0.9,0.3,1.3,1.1,0.8,-0.1,-1.2,-0.4,-0.2,-1.3,-0.4,0.0,0.9,0.9,0.8,1.4,0.9],
[1.2,1.7,0.8,0.8,1.3,0.7,0.5,-1.0,-0.6,-0.1,-1.1,-0.2,0.4,1.4,0.7,0.9,1.5,1.0,0.3,-0.7,0.0,0.5,-0.7,0.2,0.8,1.4,0.9,0.8,1.5,1.0]
];

const FONT = 'Liberation Sans, Arial, sans-serif';
const fmt = v => String(v).replace('-', '\u2212');

function baseAxis(gi, min, max, interval) {
  return {
    gridIndex: gi, type: 'value', min: min, max: max, interval: interval,
    axisLine: { show: true, onZero: false, lineStyle: { color: '#000', width: 1 } },
    axisTick: { show: true, inside: true, length: 5, lineStyle: { color: '#000', width: 1 } },
    splitLine: { show: false }
  };
}

const grids = [
  { left: 55, top: 33, width: 470, height: 370 },
  { left: 692, top: 33, width: 470, height: 370 }
];
const yRanges = [[-2, 4, 1], [-2, 3, 0.5]];

const xAxes = [], yAxes = [];
[0, 1].forEach(gi => {
  xAxes.push(Object.assign(baseAxis(gi, 0, 30, 5), { position: 'bottom',
    axisLabel: { color: '#000', fontFamily: FONT, fontSize: 13, margin: 6, formatter: fmt } }));
  xAxes.push(Object.assign(baseAxis(gi, 0, 30, 5), { position: 'top', axisLabel: { show: false } }));
  const r = yRanges[gi];
  yAxes.push(Object.assign(baseAxis(gi, r[0], r[1], r[2]), { position: 'left',
    axisLabel: { color: '#000', fontFamily: FONT, fontSize: 13, margin: 4, formatter: fmt } }));
  yAxes.push(Object.assign(baseAxis(gi, r[0], r[1], r[2]), { position: 'right', axisLabel: { show: false } }));
});

const series = [];
function addLines(lines, gi, color, width) {
  lines.forEach(vals => {
    series.push({
      type: 'line', xAxisIndex: gi * 2, yAxisIndex: gi * 2, silent: true,
      symbol: 'none', animation: false,
      lineStyle: { color: color, width: width },
      data: vals.map((v, i) => [bands[i], v])
    });
  });
}
addLines(blueA, 0, '#0000ff', 1.5);
addLines(redA, 0, '#ff0000', 1.3);
addLines(blueB, 1, '#0000ff', 1);
addLines(redB, 1, '#ff0000', 1);

const chart = echarts.init(document.getElementById('c'), null, { renderer: 'canvas' });
chart.setOption({
  backgroundColor: '#fff',
  animation: false,
  grid: grids,
  xAxis: xAxes,
  yAxis: yAxes,
  series: series,
  graphic: [
    { type: 'text', x: 282, y: 8, style: { text: titleA, align: 'center', verticalAlign: 'top',
      font: 'bold 15.8px ' + FONT, fill: '#000' } },
    { type: 'text', x: 927, y: 8, style: { text: titleB, align: 'center', verticalAlign: 'top',
      font: 'bold 15.8px ' + FONT, fill: '#000' } },
    { type: 'text', x: 279, y: 489, style: { text: panelLabels[0], align: 'center', verticalAlign: 'middle',
      font: 'bold 25px "Open Sans", sans-serif', fill: '#0f8f78' } },
    { type: 'text', x: 916, y: 489, style: { text: panelLabels[1], align: 'center', verticalAlign: 'middle',
      font: 'bold 25px "Open Sans", sans-serif', fill: '#0f8f78' } }
  ]
});
</script>
</body></html>
